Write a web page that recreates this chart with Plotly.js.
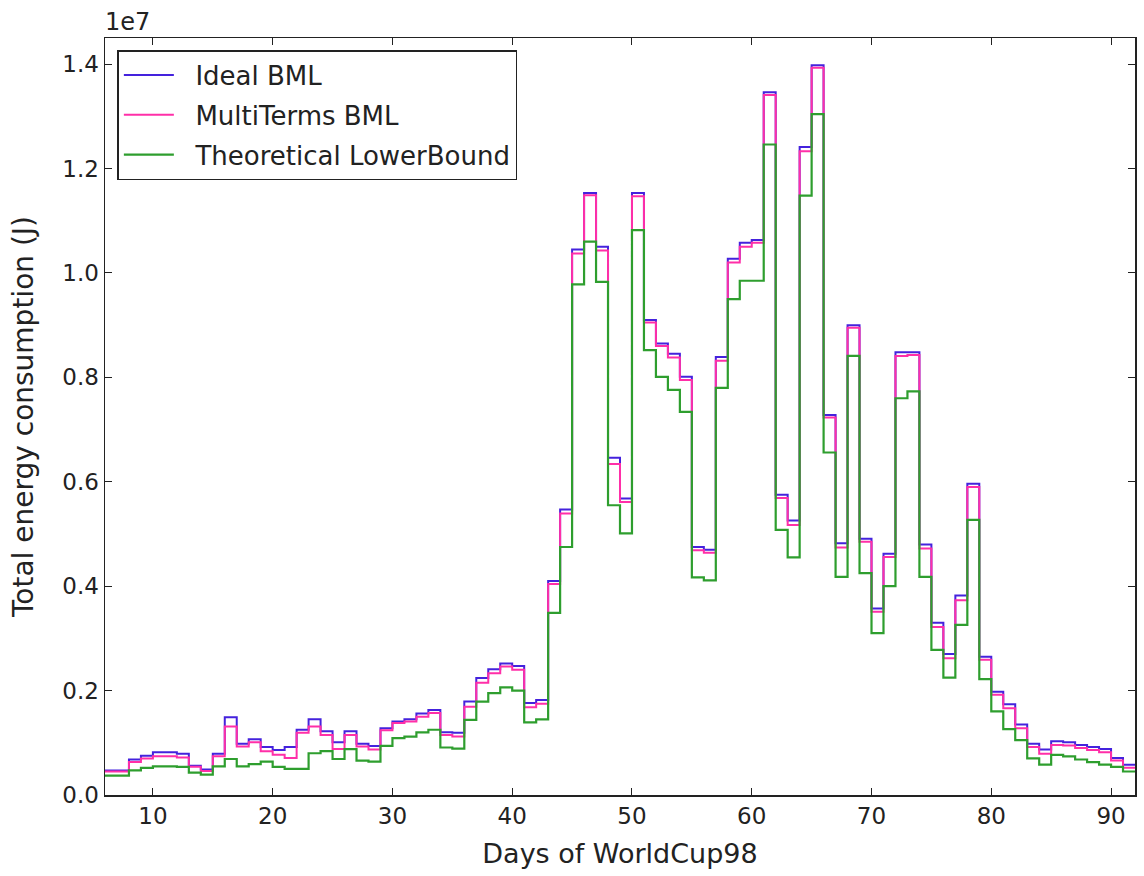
<!DOCTYPE html>
<html>
<head>
<meta charset="utf-8">
<script src="https://cdn.plot.ly/plotly-3.0.1.min.js"></script>
<style>html,body{margin:0;padding:0;background:#fff;}#chart{width:1144px;height:876px;}</style>
</head>
<body>
<div id="chart"></div>
<script>
// Day at which each one-day step starts (the step covers [day, day+1])
const days = [6,7,8,9,10,11,12,13,14,15,16,17,18,19,20,21,22,23,24,25,26,27,28,29,30,31,32,33,34,35,36,37,38,39,40,41,42,43,44,45,46,47,48,49,50,51,52,53,54,55,56,57,58,59,60,61,62,63,64,65,66,67,68,69,70,71,72,73,74,75,76,77,78,79,80,81,82,83,84,85,86,87,88,89,90,91];

// Energy values in units of 1e6 J
const idealBML = [0.47,0.47,0.68,0.75,0.82,0.82,0.79,0.56,0.49,0.79,1.49,0.98,1.07,0.92,0.86,0.92,1.25,1.45,1.22,1.01,1.22,0.98,0.94,1.28,1.41,1.45,1.56,1.63,1.20,1.19,1.79,2.24,2.41,2.52,2.47,1.76,1.82,4.10,5.47,10.45,11.53,10.50,6.46,5.68,11.53,9.10,8.65,8.45,8.01,4.75,4.70,8.39,10.27,10.58,10.63,13.46,5.75,5.26,12.41,13.98,7.28,4.82,9.00,4.91,3.57,4.62,8.48,8.48,4.80,3.30,2.70,3.82,5.96,2.65,1.98,1.74,1.35,0.98,0.87,1.03,1.01,0.96,0.92,0.88,0.71,0.58];
const multiTermsBML = [0.45,0.45,0.63,0.70,0.74,0.74,0.72,0.54,0.46,0.74,1.31,0.93,1.01,0.84,0.77,0.71,1.19,1.31,1.15,0.88,1.15,0.93,0.87,1.24,1.38,1.41,1.50,1.57,1.15,1.12,1.69,2.15,2.33,2.46,2.40,1.68,1.75,4.04,5.39,10.37,11.49,10.43,6.34,5.61,11.47,9.05,8.60,8.38,7.95,4.69,4.64,8.32,10.20,10.50,10.58,13.41,5.69,5.17,12.33,13.93,7.23,4.74,8.95,4.85,3.51,4.56,8.41,8.43,4.72,3.22,2.62,3.73,5.90,2.59,1.92,1.66,1.28,0.92,0.79,0.96,0.95,0.90,0.86,0.82,0.66,0.52];
const lowerBound = [0.37,0.37,0.47,0.52,0.55,0.55,0.54,0.43,0.39,0.55,0.69,0.55,0.59,0.64,0.54,0.50,0.50,0.80,0.84,0.69,0.88,0.66,0.64,0.94,1.09,1.12,1.20,1.25,0.91,0.89,1.44,1.79,1.95,2.06,2.00,1.39,1.45,3.49,4.75,9.78,10.60,9.83,5.55,5.01,10.82,8.52,8.01,7.76,7.34,4.17,4.11,7.80,9.50,9.85,9.85,12.46,5.08,4.55,11.48,13.04,6.56,4.18,8.41,4.25,3.10,4.00,7.60,7.73,4.18,2.78,2.25,3.26,5.27,2.22,1.60,1.26,1.05,0.70,0.58,0.77,0.74,0.68,0.63,0.58,0.54,0.45];

const seriesNames = ['Ideal BML', 'MultiTerms BML', 'Theoretical LowerBound'];
const seriesColors = ['#4422dd', '#ff2fa8', '#2e9e2e'];
const xTicks = [10,20,30,40,50,60,70,80,90];
const yTicks = [0,0.2,0.4,0.6,0.8,1.0,1.2,1.4];

// steps: append the closing edge of the last day
const xs = days.concat([days[days.length - 1] + 1]);
function toY(arr){ const s = arr.map(v => v * 1e6 / 1e7); return s.concat([s[s.length - 1]]); }

const all = [idealBML, multiTermsBML, lowerBound];
const traces = all.map((arr, i) => ({
  type: 'scatter', mode: 'lines', name: '\u00a0\u00a0' + seriesNames[i], legendgroup: 'g' + i,
  x: xs, y: toY(arr),
  line: {shape: 'hv', color: seriesColors[i], width: i === 2 ? 2.2 : 2}
}));

const F = 'DejaVu Sans, sans-serif';
const layout = {
  width: 1144, height: 876,
  margin: {l: 105, r: 9, t: 38, b: 81},
  paper_bgcolor: '#fff', plot_bgcolor: '#fff',
  font: {family: F, size: 23, color: '#222'},
  showlegend: true,
  legend: {x: 0.012, y: 0.984, xanchor: 'left', yanchor: 'top',
           bgcolor: '#fff', bordercolor: '#222', borderwidth: 1.5,
           traceorder: 'grouped', tracegroupgap: 3, itemwidth: 50,
           font: {family: F, size: 26, color: '#222'}},
  xaxis: {range: [6, 92], tickvals: xTicks, ticks: 'inside', ticklen: 7, tickwidth: 1,
          tickcolor: '#222', showline: true, linecolor: '#222', linewidth: 1.5, mirror: 'ticks',
          showgrid: false, zeroline: false,
          title: {text: 'Days of WorldCup98', font: {family: F, size: 27, color: '#222'}, standoff: 16},
          tickfont: {family: F, size: 23, color: '#222'}},
  yaxis: {range: [0, 1.45], tickvals: yTicks, tickformat: '.1f', ticks: 'inside', ticklen: 7, tickwidth: 1,
          tickcolor: '#222', showline: true, linecolor: '#222', linewidth: 1.5, mirror: 'ticks',
          showgrid: false, zeroline: false,
          title: {text: 'Total energy consumption (J)', font: {family: F, size: 28, color: '#222'}, standoff: 20},
          tickfont: {family: F, size: 23, color: '#222'}},
  annotations: [{xref: 'paper', yref: 'paper', x: -0.002, y: 1, xanchor: 'left', yanchor: 'bottom',
                 text: '1e7', showarrow: false, font: {family: F, size: 24, color: '#222'}}]
};

Plotly.newPlot('chart', traces, layout, {displayModeBar: false, staticPlot: true});
</script>
</body>
</html>
